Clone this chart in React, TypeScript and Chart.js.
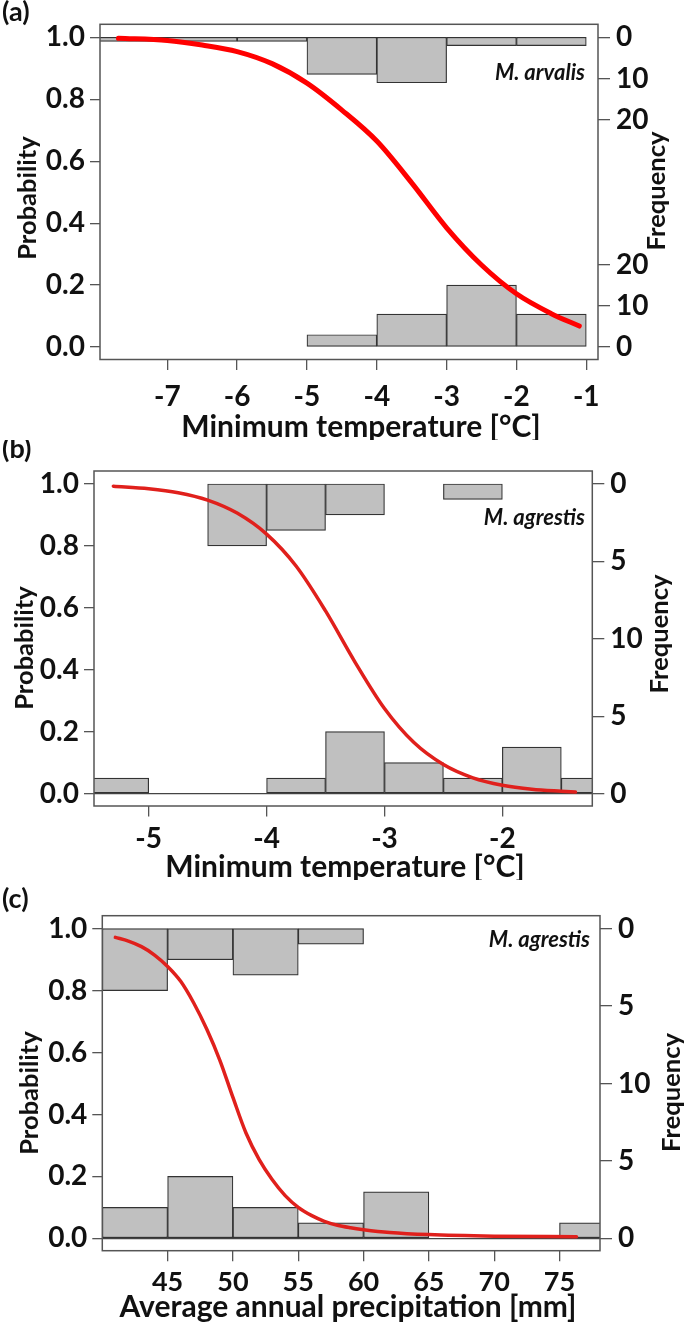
import React, { useEffect, useRef } from 'react';
import { Chart, registerables } from 'chart.js';

Chart.register(...registerables);

const FONT = 'Lato, "Open Sans", "DejaVu Sans", sans-serif';

// ---------------- shared ----------------
const PROB_TICKS = [0, 0.2, 0.4, 0.6, 0.8, 1.0];

// ---------------- Panel (a): M. arvalis, minimum temperature ----------------
const A_BIN_CENTERS = [-7.5, -6.5, -5.5, -4.5, -3.5, -2.5, -1.5];
const A_TOP_COUNTS = [1, 1, 1, 9, 11, 2, 2];
const A_BOTTOM_COUNTS = [0, 0, 0, 3, 8, 15, 8];
const A_CURVE_X = [-7.7, -7.0, -6.5, -6.0, -5.5, -5.0, -4.5, -4.0, -3.5, -3.0, -2.5, -2.0, -1.5, -1.1];
const A_CURVE_P = [0.997, 0.99, 0.975, 0.954, 0.915, 0.852, 0.765, 0.665, 0.53, 0.385, 0.265, 0.172, 0.108, 0.068];
const A_X_TICKS = [-7, -6, -5, -4, -3, -2, -1];
const A_FREQ_TOP_TICKS = [0, 10, 20];
const A_FREQ_BOTTOM_TICKS = [0, 10, 20];
const A_COUNTS_PER_PROB = 75;

// ---------------- Panel (b): M. agrestis, minimum temperature ----------------
const B_BIN_CENTERS = [-5.25, -4.75, -4.25, -3.75, -3.25, -2.75, -2.25, -1.75, -1.25];
const B_TOP_COUNTS = [0, 0, 4, 3, 2, 0, 1, 0, 0];
const B_BOTTOM_COUNTS = [1, 0, 0, 1, 4, 2, 1, 3, 1];
const B_CURVE_X = [-5.3, -5.0, -4.75, -4.5, -4.25, -4.0, -3.75, -3.5, -3.25, -3.0, -2.75, -2.5, -2.25, -2.0, -1.75, -1.5, -1.38];
const B_CURVE_P = [0.993, 0.985, 0.972, 0.948, 0.906, 0.838, 0.735, 0.59, 0.425, 0.275, 0.165, 0.094, 0.051, 0.027, 0.014, 0.0075, 0.005];
const B_X_TICKS = [-5, -4, -3, -2];
const B_FREQ_TOP_TICKS = [0, 5, 10];
const B_FREQ_BOTTOM_TICKS = [0, 5];
const B_COUNTS_PER_PROB = 20;

// ---------------- Panel (c): M. agrestis, precipitation ----------------
const C_BIN_CENTERS = [42.5, 47.5, 52.5, 57.5, 62.5, 67.5, 72.5, 77.5];
const C_TOP_COUNTS = [4, 2, 3, 1, 0, 0, 0, 0];
const C_BOTTOM_COUNTS = [2, 4, 2, 1, 3, 0, 0, 1];
const C_CURVE_X = [41, 42, 43, 44, 45, 46, 47, 48, 49, 50, 51, 52, 53, 54, 55, 56, 57, 58, 59, 60, 62, 65, 70, 76.3];
const C_CURVE_P = [0.972, 0.96, 0.942, 0.915, 0.878, 0.83, 0.76, 0.675, 0.575, 0.455, 0.34, 0.255, 0.19, 0.138, 0.1, 0.074, 0.055, 0.042, 0.034, 0.028, 0.019, 0.012, 0.007, 0.005];
const C_X_TICKS = [45, 50, 55, 60, 65, 70, 75];
const C_FREQ_TOP_TICKS = [0, 5, 10];
const C_FREQ_BOTTOM_TICKS = [0, 5];
const C_COUNTS_PER_PROB = 20;

type TextItem = { text: string; x: number; y: number; font: string; align?: CanvasTextAlign; baseline?: CanvasTextBaseline; rotate?: boolean };

type Spec = {
  top: number; h: number;
  frame: { left: number; right: number; top: number; bottom: number };
  xMin: number; xMax: number;
  binCenters: number[]; topCounts: number[]; bottomCounts: number[];
  curveX: number[]; curveP: number[];
  xTicks: number[]; freqTop: number[]; freqBottom: number[]; perProb: number;
  curveColor: string; curveWidth: number;
  zeroLine: boolean;
  xTickSize: number; xTickPad: number;
  texts: TextItem[];
};

const W = 685;
const TICK_SIZE = 28;

const SPECS: Spec[] = [
  {
    top: 0, h: 440,
    frame: { left: 100, right: 598, top: 24.3, bottom: 359.5 },
    xMin: -7.964, xMax: -0.832,
    binCenters: A_BIN_CENTERS, topCounts: A_TOP_COUNTS, bottomCounts: A_BOTTOM_COUNTS,
    curveX: A_CURVE_X, curveP: A_CURVE_P,
    xTicks: A_X_TICKS, freqTop: A_FREQ_TOP_TICKS, freqBottom: A_FREQ_BOTTOM_TICKS, perProb: A_COUNTS_PER_PROB,
    curveColor: '#ff0000', curveWidth: 5,
    zeroLine: false,
    xTickSize: 28, xTickPad: 10.5,
    texts: [
      { text: '(a)', x: 2, y: 21, font: `bold 27px ${FONT}` },
      { text: 'M. arvalis', x: 585, y: 80, font: `italic bold 22px ${FONT}`, align: 'right' },
      { text: 'Minimum temperature [°C]', x: 361, y: 437, font: `bold 30px ${FONT}`, align: 'center' },
      { text: 'Probability', x: 28, y: 198, font: `bold 25.5px ${FONT}`, align: 'center', baseline: 'middle', rotate: true },
      { text: 'Frequency', x: 657, y: 191, font: `bold 25.5px ${FONT}`, align: 'center', baseline: 'middle', rotate: true },
    ],
  },
  {
    top: 440, h: 440,
    frame: { left: 94, right: 592.3, top: 31, bottom: 366 },
    xMin: -5.464, xMax: -1.237,
    binCenters: B_BIN_CENTERS, topCounts: B_TOP_COUNTS, bottomCounts: B_BOTTOM_COUNTS,
    curveX: B_CURVE_X, curveP: B_CURVE_P,
    xTicks: B_X_TICKS, freqTop: B_FREQ_TOP_TICKS, freqBottom: B_FREQ_BOTTOM_TICKS, perProb: B_COUNTS_PER_PROB,
    curveColor: '#e0201c', curveWidth: 3.5,
    zeroLine: true,
    xTickSize: 28, xTickPad: 6,
    texts: [
      { text: '(b)', x: 2, y: 18, font: `bold 27px ${FONT}` },
      { text: 'M. agrestis', x: 585, y: 85, font: `italic bold 22px ${FONT}`, align: 'right' },
      { text: 'Minimum temperature [°C]', x: 345, y: 437, font: `bold 30px ${FONT}`, align: 'center' },
      { text: 'Probability', x: 25, y: 208, font: `bold 25.5px ${FONT}`, align: 'center', baseline: 'middle', rotate: true },
      { text: 'Frequency', x: 660, y: 194, font: `bold 25.5px ${FONT}`, align: 'center', baseline: 'middle', rotate: true },
    ],
  },
  {
    top: 880, h: 452,
    frame: { left: 102.3, right: 600, top: 35.7, bottom: 370.7 },
    xMin: 40, xMax: 78.1,
    binCenters: C_BIN_CENTERS, topCounts: C_TOP_COUNTS, bottomCounts: C_BOTTOM_COUNTS,
    curveX: C_CURVE_X, curveP: C_CURVE_P,
    xTicks: C_X_TICKS, freqTop: C_FREQ_TOP_TICKS, freqBottom: C_FREQ_BOTTOM_TICKS, perProb: C_COUNTS_PER_PROB,
    curveColor: '#e0201c', curveWidth: 3.5,
    zeroLine: true,
    xTickSize: 27, xTickPad: 5,
    texts: [
      { text: '(c)', x: 2, y: 27.7, font: `bold 27px ${FONT}` },
      { text: 'M. agrestis', x: 590, y: 66.7, font: `italic bold 22px ${FONT}`, align: 'right' },
      { text: 'Average annual precipitation [mm]', x: 348, y: 436.7, font: `bold 30px ${FONT}`, align: 'center' },
      { text: 'Probability', x: 30, y: 213, font: `bold 25.5px ${FONT}`, align: 'center', baseline: 'middle', rotate: true },
      { text: 'Frequency', x: 672, y: 212.5, font: `bold 25.5px ${FONT}`, align: 'center', baseline: 'middle', rotate: true },
    ],
  },
];

const framePlugin = {
  id: 'frameBox',
  afterDatasetsDraw(chart: any) {
    const { ctx, chartArea: a } = chart;
    ctx.save();
    ctx.strokeStyle = '#555555';
    ctx.lineWidth = 1.5;
    ctx.strokeRect(a.left, a.top, a.right - a.left, a.bottom - a.top);
    ctx.restore();
  },
};

function makeTextPlugin(texts: TextItem[]) {
  return {
    id: 'panelTexts',
    afterDraw(chart: any) {
      const ctx = chart.ctx as CanvasRenderingContext2D;
      texts.forEach((t) => {
        ctx.save();
        ctx.fillStyle = '#111111';
        ctx.font = t.font;
        ctx.textAlign = t.align || 'left';
        ctx.textBaseline = t.baseline || 'alphabetic';
        ctx.translate(t.x, t.y);
        if (t.rotate) ctx.rotate(-Math.PI / 2);
        ctx.fillText(t.text, 0, 0);
        ctx.restore();
      });
    },
  };
}

function buildConfig(s: Spec): any {
  const f = s.frame;
  const bars = (counts: number[], fromTop: boolean) =>
    s.binCenters
      .map((x, i) => ({ x, c: counts[i], y: fromTop ? [1 - counts[i] / s.perProb, 1] : [0, counts[i] / s.perProb] }))
      .filter((b) => b.c > 0)
      .map((b) => ({ x: b.x, y: b.y }));

  const curve = s.curveX.map((x, i) => ({ x, y: s.curveP[i] }));

  const freqTicks: { value: number; label: string }[] = [];
  s.freqTop.forEach((c) => freqTicks.push({ value: 1 - c / s.perProb, label: String(c) }));
  s.freqBottom.forEach((c) => {
    const v = c / s.perProb;
    if (!freqTicks.some((t) => Math.abs(t.value - v) < 1e-6)) freqTicks.push({ value: v, label: String(c) });
  });
  freqTicks.sort((a, b) => a.value - b.value);

  const barCommon = {
    type: 'bar',
    backgroundColor: '#c0c0c0',
    borderColor: '#333333',
    borderWidth: 1.2,
    borderSkipped: false,
    grouped: false,
    barPercentage: 1,
    categoryPercentage: 1,
    clip: 0,
    order: 2,
    xAxisID: 'x',
    yAxisID: 'y',
  };

  const tickFont = (size: number) => ({ family: FONT, size, weight: 'bold' as const });

  return {
    type: 'bar',
    data: {
      datasets: [
        {
          type: 'line',
          data: curve,
          borderColor: s.curveColor,
          borderWidth: s.curveWidth,
          pointRadius: 0,
          cubicInterpolationMode: 'monotone',
          borderCapStyle: 'round',
          fill: false,
          order: 0,
          xAxisID: 'x',
          yAxisID: 'y',
        },
        { ...barCommon, data: bars(s.topCounts, true) },
        { ...barCommon, data: bars(s.bottomCounts, false) },
      ],
    },
    options: {
      animation: false,
      responsive: false,
      maintainAspectRatio: false,
      events: [],
      layout: { padding: { top: f.top, left: 0, right: 0, bottom: 0 } },
      plugins: { legend: { display: false }, tooltip: { enabled: false } },
      scales: {
        x: {
          type: 'linear',
          position: 'bottom',
          min: s.xMin,
          max: s.xMax,
          offset: false,
          afterBuildTicks: (sc: any) => { sc.ticks = s.xTicks.map((v) => ({ value: v })); },
          afterFit: (sc: any) => { sc.height = s.h - f.bottom; },
          ticks: { callback: (v: any) => String(v), font: tickFont(s.xTickSize), color: '#111', padding: s.xTickPad, autoSkip: false, maxRotation: 0 },
          grid: { display: true, drawOnChartArea: false, offset: false, tickLength: 10.5, tickColor: '#555', lineWidth: 1.3 },
          border: { display: false },
        },
        y: {
          type: 'linear',
          position: 'left',
          min: -0.04,
          max: 1.042,
          afterBuildTicks: (sc: any) => { sc.ticks = PROB_TICKS.map((v) => ({ value: v })); },
          afterFit: (sc: any) => { sc.width = f.left; },
          ticks: { callback: (v: any) => Number(v).toFixed(1), font: tickFont(TICK_SIZE), color: '#111', padding: 5, autoSkip: false },
          grid: {
            display: true,
            drawOnChartArea: s.zeroLine,
            color: (ctx: any) => (ctx.tick && Math.abs(ctx.tick.value) < 1e-9 ? '#444' : 'rgba(0,0,0,0)'),
            tickColor: '#555',
            tickLength: 10,
            lineWidth: 1.3,
          },
          border: { display: false },
        },
        y2: {
          type: 'linear',
          position: 'right',
          min: -0.04,
          max: 1.042,
          afterBuildTicks: (sc: any) => { sc.ticks = freqTicks.map((t) => ({ value: t.value })); },
          afterFit: (sc: any) => { sc.width = W - f.right; },
          ticks: {
            callback: (v: any) => {
              const t = freqTicks.find((q) => Math.abs(q.value - Number(v)) < 1e-6);
              return t ? t.label : '';
            },
            font: tickFont(TICK_SIZE),
            color: '#111',
            padding: 6,
            autoSkip: false,
          },
          grid: { display: true, drawOnChartArea: false, tickColor: '#555', tickLength: 12, lineWidth: 1.3 },
          border: { display: false },
        },
      },
    },
    plugins: [framePlugin, makeTextPlugin(s.texts)],
  };
}

function Panel({ spec }: { spec: Spec }) {
  const ref = useRef<HTMLCanvasElement | null>(null);
  useEffect(() => {
    if (!ref.current) return;
    const chart = new Chart(ref.current, buildConfig(spec));
    return () => chart.destroy();
  }, [spec]);
  return (
    <canvas
      ref={ref}
      width={W}
      height={spec.h}
      style={{ position: 'absolute', left: 0, top: spec.top, width: W, height: spec.h }}
    />
  );
}

export default function App() {
  return (
    <div style={{ position: 'absolute', left: 0, top: 0, width: W, height: 1332, background: '#ffffff' }}>
      {SPECS.map((s, i) => (
        <Panel key={i} spec={s} />
      ))}
    </div>
  );
}
